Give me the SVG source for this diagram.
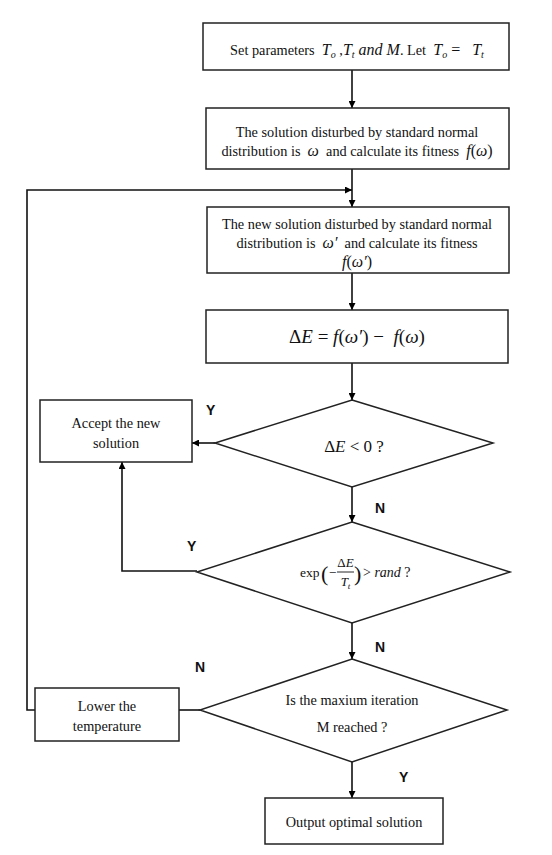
<svg xmlns="http://www.w3.org/2000/svg" width="552" height="855" viewBox="0 0 552 855">
<defs>
<marker id="ah" viewBox="0 0 10 10" refX="10" refY="5" markerWidth="7" markerHeight="7" markerUnits="userSpaceOnUse" orient="auto">
<path d="M0,0 L10,5 L0,10 z" fill="#000"/>
</marker>
<style>
.box{fill:#fff;stroke:#222;stroke-width:1.5}
.t{font-family:"Liberation Serif","Times New Roman",serif;font-size:14.3px;fill:#111;text-anchor:middle}
.s{font-family:"Liberation Serif","Times New Roman",serif;fill:#111;text-anchor:start}
.m{font-family:"Liberation Serif","Times New Roman",serif;font-style:italic}
.lab{font-family:"Liberation Sans",Arial,sans-serif;font-size:14px;fill:#111;font-weight:bold}
.c{fill:none;stroke:#111;stroke-width:1.6}
</style>
</defs>
<rect width="552" height="855" fill="#fff"/>
<g id="connectors">
<line class="c" x1="352" y1="70" x2="352" y2="108" marker-end="url(#ah)"/>
<line class="c" x1="352" y1="169" x2="352" y2="207" marker-end="url(#ah)"/>
<line class="c" x1="352" y1="273" x2="352" y2="310" marker-end="url(#ah)"/>
<line class="c" x1="352" y1="363" x2="352" y2="400" marker-end="url(#ah)"/>
<line class="c" x1="215" y1="443" x2="192" y2="443" marker-end="url(#ah)"/>
<line class="c" x1="352" y1="487" x2="352" y2="522" marker-end="url(#ah)"/>
<polyline class="c" points="197,571 122,571 122,462" marker-end="url(#ah)"/>
<line class="c" x1="352" y1="623" x2="352" y2="659" marker-end="url(#ah)"/>
<line class="c" x1="200" y1="710" x2="179" y2="710"/>
<polyline class="c" points="35,710 27,710 27,190 352,190" marker-end="url(#ah)"/>
<line class="c" x1="352" y1="762" x2="352" y2="798" marker-end="url(#ah)"/>
<text class="lab" x="206" y="415">Y</text>
<text class="lab" x="375" y="513">N</text>
<text class="lab" x="187" y="551">Y</text>
<text class="lab" x="375" y="652">N</text>
<text class="lab" x="195" y="672">N</text>
<text class="lab" x="399" y="782">Y</text>
</g>
<g id="n1">
<rect class="box" x="203" y="23" width="306" height="47"/>
<text class="t" x="357" y="55" xml:space="preserve">Set parameters  <tspan class="m" font-size="16">T</tspan><tspan class="m" font-size="10" dy="3">o</tspan><tspan dy="-3"> ,</tspan><tspan class="m" font-size="16">T</tspan><tspan class="m" font-size="10" dy="3">t</tspan><tspan class="m" font-size="16" dy="-3"> and M</tspan>. Let  <tspan class="m" font-size="16">T</tspan><tspan class="m" font-size="10" dy="3">o</tspan><tspan font-size="16" dy="-3"> =   </tspan><tspan class="m" font-size="16">T</tspan><tspan class="m" font-size="10" dy="3">t</tspan></text>
</g>
<g id="n2">
<rect class="box" x="206" y="108" width="303" height="61"/>
<text class="t" x="357" y="137">The solution disturbed by standard normal</text>
<text class="t" x="357" y="156" xml:space="preserve">distribution is  <tspan class="m" font-size="16">ω</tspan>  and calculate its fitness  <tspan class="m" font-size="16">f</tspan><tspan font-size="16">(</tspan><tspan class="m" font-size="16">ω</tspan><tspan font-size="16">)</tspan></text>
</g>
<g id="n3">
<rect class="box" x="207" y="207" width="302" height="66"/>
<text class="t" x="357" y="229">The new solution disturbed by standard normal</text>
<text class="t" x="357" y="248" xml:space="preserve">distribution is  <tspan class="m" font-size="16">ω′</tspan>  and calculate its fitness</text>
<text class="t" x="357" y="267"><tspan class="m" font-size="16">f</tspan><tspan font-size="16">(</tspan><tspan class="m" font-size="16">ω′</tspan><tspan font-size="16">)</tspan></text>
</g>
<g id="n4">
<rect class="box" x="206" y="310" width="302" height="53"/>
<text class="t" x="357" y="343" style="font-size:19px" xml:space="preserve">Δ<tspan class="m">E</tspan> = <tspan class="m">f</tspan>(<tspan class="m">ω′</tspan>) −  <tspan class="m">f</tspan>(<tspan class="m">ω</tspan>)</text>
</g>
<g id="d1">
<polygon class="box" points="352,400 493,443 352,487 215,443"/>
<text class="t" x="354" y="452" style="font-size:17px">Δ<tspan class="m">E</tspan> &lt; 0 ?</text>
</g>
<g id="accept">
<rect class="box" x="40" y="400" width="152" height="62"/>
<text class="t" x="116" y="428">Accept the new</text>
<text class="t" x="116" y="448">solution</text>
</g>
<g id="d2">
<polygon class="box" points="352,522 510,572 352,623 197,572"/>
<text class="s" x="300" y="577" style="font-size:13.5px">exp</text>
<text class="s" x="321" y="581" style="font-size:22px">(</text>
<text class="s" x="329" y="577" style="font-size:13.5px">−</text>
<text class="t" x="345.5" y="567" style="font-size:13px">Δ<tspan class="m">E</tspan></text>
<line x1="337" y1="572" x2="354" y2="572" stroke="#111" stroke-width="0.9"/>
<text class="t" x="345.5" y="586" style="font-size:13px"><tspan class="m">T</tspan><tspan class="m" font-size="9" dy="3">t</tspan></text>
<text class="s" x="354" y="581" style="font-size:22px">)</text>
<text class="s" x="363" y="577" style="font-size:14px">&gt; <tspan class="m">rand</tspan> ?</text>
</g>
<g id="d3">
<polygon class="box" points="352,659 507,710 352,762 200,710"/>
<text class="t" x="352" y="705">Is the maxium iteration</text>
<text class="t" x="352" y="732">M reached ?</text>
</g>
<g id="lower">
<rect class="box" x="35" y="688" width="144" height="53"/>
<text class="t" x="107" y="711">Lower the</text>
<text class="t" x="107" y="731">temperature</text>
</g>
<g id="out">
<rect class="box" x="265" y="798" width="178" height="46"/>
<text class="t" x="354" y="827">Output optimal solution</text>
</g>
</svg>
